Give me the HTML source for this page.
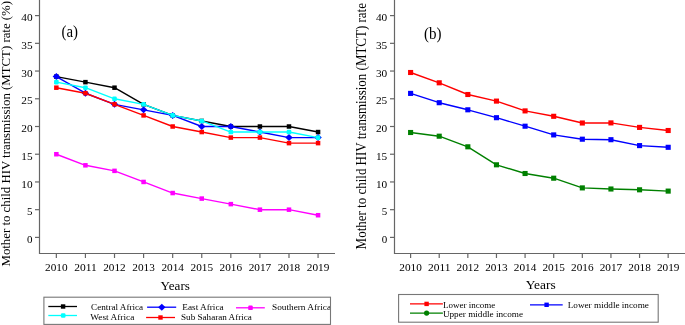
<!DOCTYPE html><html><head><meta charset="utf-8"><style>html,body{margin:0;padding:0;background:#fff;width:685px;height:325px;overflow:hidden}svg{display:block;will-change:transform}text{font-family:"Liberation Serif",serif;fill:#000}</style></head><body>
<svg width="685" height="325" viewBox="0 0 685 325">
<rect width="685" height="325" fill="#fff"/>
<path d="M39.5 0V253.5H335" fill="none" stroke="#666666" stroke-width="1.2"/>
<path d="M35 237.4H39.5" stroke="#666666" stroke-width="1.2"/>
<text x="32.6" y="243" font-size="10" text-anchor="end" textLength="5.5" lengthAdjust="spacingAndGlyphs">0</text>
<path d="M35 209.68H39.5" stroke="#666666" stroke-width="1.2"/>
<text x="32.6" y="215.28" font-size="10" text-anchor="end" textLength="5.5" lengthAdjust="spacingAndGlyphs">5</text>
<path d="M35 181.95H39.5" stroke="#666666" stroke-width="1.2"/>
<text x="32.6" y="187.55" font-size="10" text-anchor="end" textLength="11.3" lengthAdjust="spacingAndGlyphs">10</text>
<path d="M35 154.23H39.5" stroke="#666666" stroke-width="1.2"/>
<text x="32.6" y="159.83" font-size="10" text-anchor="end" textLength="11.3" lengthAdjust="spacingAndGlyphs">15</text>
<path d="M35 126.5H39.5" stroke="#666666" stroke-width="1.2"/>
<text x="32.6" y="132.1" font-size="10" text-anchor="end" textLength="11.3" lengthAdjust="spacingAndGlyphs">20</text>
<path d="M35 98.78H39.5" stroke="#666666" stroke-width="1.2"/>
<text x="32.6" y="104.38" font-size="10" text-anchor="end" textLength="11.3" lengthAdjust="spacingAndGlyphs">25</text>
<path d="M35 71.05H39.5" stroke="#666666" stroke-width="1.2"/>
<text x="32.6" y="76.65" font-size="10" text-anchor="end" textLength="11.3" lengthAdjust="spacingAndGlyphs">30</text>
<path d="M35 43.33H39.5" stroke="#666666" stroke-width="1.2"/>
<text x="32.6" y="48.93" font-size="10" text-anchor="end" textLength="11.3" lengthAdjust="spacingAndGlyphs">35</text>
<path d="M35 15.6H39.5" stroke="#666666" stroke-width="1.2"/>
<text x="32.6" y="21.2" font-size="10" text-anchor="end" textLength="11.3" lengthAdjust="spacingAndGlyphs">40</text>
<path d="M56.35 253.5V258" stroke="#666666" stroke-width="1.2"/>
<text x="56.35" y="270.5" font-size="10" text-anchor="middle" textLength="22.5" lengthAdjust="spacingAndGlyphs">2010</text>
<path d="M85.43 253.5V258" stroke="#666666" stroke-width="1.2"/>
<text x="85.43" y="270.5" font-size="10" text-anchor="middle" textLength="22.5" lengthAdjust="spacingAndGlyphs">2011</text>
<path d="M114.51 253.5V258" stroke="#666666" stroke-width="1.2"/>
<text x="114.51" y="270.5" font-size="10" text-anchor="middle" textLength="22.5" lengthAdjust="spacingAndGlyphs">2012</text>
<path d="M143.59 253.5V258" stroke="#666666" stroke-width="1.2"/>
<text x="143.59" y="270.5" font-size="10" text-anchor="middle" textLength="22.5" lengthAdjust="spacingAndGlyphs">2013</text>
<path d="M172.67 253.5V258" stroke="#666666" stroke-width="1.2"/>
<text x="172.67" y="270.5" font-size="10" text-anchor="middle" textLength="22.5" lengthAdjust="spacingAndGlyphs">2014</text>
<path d="M201.75 253.5V258" stroke="#666666" stroke-width="1.2"/>
<text x="201.75" y="270.5" font-size="10" text-anchor="middle" textLength="22.5" lengthAdjust="spacingAndGlyphs">2015</text>
<path d="M230.83 253.5V258" stroke="#666666" stroke-width="1.2"/>
<text x="230.83" y="270.5" font-size="10" text-anchor="middle" textLength="22.5" lengthAdjust="spacingAndGlyphs">2016</text>
<path d="M259.91 253.5V258" stroke="#666666" stroke-width="1.2"/>
<text x="259.91" y="270.5" font-size="10" text-anchor="middle" textLength="22.5" lengthAdjust="spacingAndGlyphs">2017</text>
<path d="M288.99 253.5V258" stroke="#666666" stroke-width="1.2"/>
<text x="288.99" y="270.5" font-size="10" text-anchor="middle" textLength="22.5" lengthAdjust="spacingAndGlyphs">2018</text>
<path d="M318.07 253.5V258" stroke="#666666" stroke-width="1.2"/>
<text x="318.07" y="270.5" font-size="10" text-anchor="middle" textLength="22.5" lengthAdjust="spacingAndGlyphs">2019</text>
<text x="160.6" y="290.1" font-size="12.6" textLength="29.3" lengthAdjust="spacingAndGlyphs">Years</text>
<text transform="translate(9.8 266.5) rotate(-90)" x="0" y="0" font-size="13.4" textLength="265.5" lengthAdjust="spacingAndGlyphs">Mother to child HIV transmission (MTCT) rate (%)</text>
<text x="61.5" y="36.9" font-size="16" textLength="16.5" lengthAdjust="spacingAndGlyphs">(a)</text>
<path d="M56.35 76.59 L85.43 82.14 L114.51 87.69 L143.59 104.32 L172.67 115.41 L201.75 120.96 L230.83 126.5 L259.91 126.5 L288.99 126.5 L318.07 132.05" fill="none" stroke="#000000" stroke-width="1.4" stroke-linejoin="round"/><rect x="54.1" y="74.34" width="4.5" height="4.5" fill="#000000"/><rect x="83.18" y="79.89" width="4.5" height="4.5" fill="#000000"/><rect x="112.26" y="85.44" width="4.5" height="4.5" fill="#000000"/><rect x="141.34" y="102.07" width="4.5" height="4.5" fill="#000000"/><rect x="170.42" y="113.16" width="4.5" height="4.5" fill="#000000"/><rect x="199.5" y="118.71" width="4.5" height="4.5" fill="#000000"/><rect x="228.58" y="124.25" width="4.5" height="4.5" fill="#000000"/><rect x="257.66" y="124.25" width="4.5" height="4.5" fill="#000000"/><rect x="286.74" y="124.25" width="4.5" height="4.5" fill="#000000"/><rect x="315.82" y="129.8" width="4.5" height="4.5" fill="#000000"/>
<path d="M56.35 76.59 L85.43 93.23 L114.51 104.32 L143.59 109.87 L172.67 115.41 L201.75 126.5 L230.83 126.5 L259.91 132.05 L288.99 137.59 L318.07 137.59" fill="none" stroke="#0000ff" stroke-width="1.4" stroke-linejoin="round"/><path d="M56.35 73.09L60.05 76.59L56.35 80.09L52.65 76.59Z" fill="#0000ff"/><path d="M85.43 89.73L89.13 93.23L85.43 96.73L81.73 93.23Z" fill="#0000ff"/><path d="M114.51 100.82L118.21 104.32L114.51 107.82L110.81 104.32Z" fill="#0000ff"/><path d="M143.59 106.37L147.29 109.87L143.59 113.37L139.89 109.87Z" fill="#0000ff"/><path d="M172.67 111.91L176.37 115.41L172.67 118.91L168.97 115.41Z" fill="#0000ff"/><path d="M201.75 123L205.45 126.5L201.75 130L198.05 126.5Z" fill="#0000ff"/><path d="M230.83 123L234.53 126.5L230.83 130L227.13 126.5Z" fill="#0000ff"/><path d="M259.91 128.55L263.61 132.05L259.91 135.55L256.21 132.05Z" fill="#0000ff"/><path d="M288.99 134.09L292.69 137.59L288.99 141.09L285.29 137.59Z" fill="#0000ff"/><path d="M318.07 134.09L321.77 137.59L318.07 141.09L314.37 137.59Z" fill="#0000ff"/>
<path d="M56.35 154.23 L85.43 165.31 L114.51 170.86 L143.59 181.95 L172.67 193.04 L201.75 198.59 L230.83 204.13 L259.91 209.68 L288.99 209.68 L318.07 215.22" fill="none" stroke="#ff00ff" stroke-width="1.4" stroke-linejoin="round"/><rect x="54.1" y="151.98" width="4.5" height="4.5" fill="#ff00ff"/><rect x="83.18" y="163.06" width="4.5" height="4.5" fill="#ff00ff"/><rect x="112.26" y="168.61" width="4.5" height="4.5" fill="#ff00ff"/><rect x="141.34" y="179.7" width="4.5" height="4.5" fill="#ff00ff"/><rect x="170.42" y="190.79" width="4.5" height="4.5" fill="#ff00ff"/><rect x="199.5" y="196.34" width="4.5" height="4.5" fill="#ff00ff"/><rect x="228.58" y="201.88" width="4.5" height="4.5" fill="#ff00ff"/><rect x="257.66" y="207.43" width="4.5" height="4.5" fill="#ff00ff"/><rect x="286.74" y="207.43" width="4.5" height="4.5" fill="#ff00ff"/><rect x="315.82" y="212.97" width="4.5" height="4.5" fill="#ff00ff"/>
<path d="M56.35 82.14 L85.43 87.69 L114.51 98.78 L143.59 104.32 L172.67 115.41 L201.75 120.96 L230.83 132.05 L259.91 132.05 L288.99 132.05 L318.07 137.59" fill="none" stroke="#00ffff" stroke-width="1.4" stroke-linejoin="round"/><rect x="54.05" y="79.84" width="4.6" height="4.6" rx="1.2" fill="#00ffff"/><rect x="83.13" y="85.39" width="4.6" height="4.6" rx="1.2" fill="#00ffff"/><rect x="112.21" y="96.48" width="4.6" height="4.6" rx="1.2" fill="#00ffff"/><rect x="141.29" y="102.02" width="4.6" height="4.6" rx="1.2" fill="#00ffff"/><rect x="170.37" y="113.11" width="4.6" height="4.6" rx="1.2" fill="#00ffff"/><rect x="199.45" y="118.66" width="4.6" height="4.6" rx="1.2" fill="#00ffff"/><rect x="228.53" y="129.75" width="4.6" height="4.6" rx="1.2" fill="#00ffff"/><rect x="257.61" y="129.75" width="4.6" height="4.6" rx="1.2" fill="#00ffff"/><rect x="286.69" y="129.75" width="4.6" height="4.6" rx="1.2" fill="#00ffff"/><rect x="315.77" y="135.29" width="4.6" height="4.6" rx="1.2" fill="#00ffff"/>
<path d="M56.35 87.69 L85.43 93.23 L114.51 104.32 L143.59 115.41 L172.67 126.5 L201.75 132.05 L230.83 137.59 L259.91 137.59 L288.99 143.13 L318.07 143.13" fill="none" stroke="#ff0000" stroke-width="1.4" stroke-linejoin="round"/><rect x="54.1" y="85.44" width="4.5" height="4.5" fill="#ff0000"/><rect x="83.18" y="90.98" width="4.5" height="4.5" fill="#ff0000"/><rect x="112.26" y="102.07" width="4.5" height="4.5" fill="#ff0000"/><rect x="141.34" y="113.16" width="4.5" height="4.5" fill="#ff0000"/><rect x="170.42" y="124.25" width="4.5" height="4.5" fill="#ff0000"/><rect x="199.5" y="129.8" width="4.5" height="4.5" fill="#ff0000"/><rect x="228.58" y="135.34" width="4.5" height="4.5" fill="#ff0000"/><rect x="257.66" y="135.34" width="4.5" height="4.5" fill="#ff0000"/><rect x="286.74" y="140.88" width="4.5" height="4.5" fill="#ff0000"/><rect x="315.82" y="140.88" width="4.5" height="4.5" fill="#ff0000"/>
<rect x="43.9" y="297.2" width="286.6" height="27.2" fill="none" stroke="#777777" stroke-width="1.1"/>
<path d="M48.3 306.5H77" stroke="#000000" stroke-width="1.3"/><rect x="60.9" y="304.3" width="4.4" height="4.4" fill="#000000"/>
<path d="M48.3 315.5H77" stroke="#00ffff" stroke-width="1.3"/><rect x="60.9" y="313.2" width="4.6" height="4.6" rx="1.2" fill="#00ffff"/>
<path d="M147.1 307.2H176.2" stroke="#0000ff" stroke-width="1.3"/><path d="M161.8 303.7L165.5 307.2L161.8 310.7L158.1 307.2Z" fill="#0000ff"/>
<path d="M146.1 317.5H175" stroke="#ff0000" stroke-width="1.3"/><rect x="158.3" y="315.3" width="4.4" height="4.4" fill="#ff0000"/>
<path d="M236 307.8H264.8" stroke="#ff00ff" stroke-width="1.3"/><rect x="248.2" y="305.5" width="4.6" height="4.6" rx="1.2" fill="#ff00ff"/>
<text x="91.1" y="309.8" font-size="9" textLength="52.1" lengthAdjust="spacingAndGlyphs">Central Africa</text>
<text x="90.3" y="319.6" font-size="9" textLength="44" lengthAdjust="spacingAndGlyphs">West Africa</text>
<text x="182.3" y="310" font-size="9" textLength="41.3" lengthAdjust="spacingAndGlyphs">East Africa</text>
<text x="181" y="320.3" font-size="9" textLength="70.9" lengthAdjust="spacingAndGlyphs">Sub Saharan Africa</text>
<svg x="0" y="0" width="330" height="325" overflow="hidden"><text x="272" y="310.1" font-size="9" textLength="59" lengthAdjust="spacingAndGlyphs">Southern Africa</text></svg>
<path d="M394.5 0V253.5H685" fill="none" stroke="#666666" stroke-width="1.2"/>
<path d="M390 237.4H394.5" stroke="#666666" stroke-width="1.2"/>
<text x="387.2" y="243" font-size="10" text-anchor="end" textLength="5.5" lengthAdjust="spacingAndGlyphs">0</text>
<path d="M390 209.68H394.5" stroke="#666666" stroke-width="1.2"/>
<text x="387.2" y="215.28" font-size="10" text-anchor="end" textLength="5.5" lengthAdjust="spacingAndGlyphs">5</text>
<path d="M390 181.95H394.5" stroke="#666666" stroke-width="1.2"/>
<text x="387.2" y="187.55" font-size="10" text-anchor="end" textLength="11.3" lengthAdjust="spacingAndGlyphs">10</text>
<path d="M390 154.23H394.5" stroke="#666666" stroke-width="1.2"/>
<text x="387.2" y="159.83" font-size="10" text-anchor="end" textLength="11.3" lengthAdjust="spacingAndGlyphs">15</text>
<path d="M390 126.5H394.5" stroke="#666666" stroke-width="1.2"/>
<text x="387.2" y="132.1" font-size="10" text-anchor="end" textLength="11.3" lengthAdjust="spacingAndGlyphs">20</text>
<path d="M390 98.78H394.5" stroke="#666666" stroke-width="1.2"/>
<text x="387.2" y="104.38" font-size="10" text-anchor="end" textLength="11.3" lengthAdjust="spacingAndGlyphs">25</text>
<path d="M390 71.05H394.5" stroke="#666666" stroke-width="1.2"/>
<text x="387.2" y="76.65" font-size="10" text-anchor="end" textLength="11.3" lengthAdjust="spacingAndGlyphs">30</text>
<path d="M390 43.33H394.5" stroke="#666666" stroke-width="1.2"/>
<text x="387.2" y="48.93" font-size="10" text-anchor="end" textLength="11.3" lengthAdjust="spacingAndGlyphs">35</text>
<path d="M390 15.6H394.5" stroke="#666666" stroke-width="1.2"/>
<text x="387.2" y="21.2" font-size="10" text-anchor="end" textLength="11.3" lengthAdjust="spacingAndGlyphs">40</text>
<path d="M410.6 253.5V258" stroke="#666666" stroke-width="1.2"/>
<text x="410.6" y="270.5" font-size="10" text-anchor="middle" textLength="22.5" lengthAdjust="spacingAndGlyphs">2010</text>
<path d="M439.22 253.5V258" stroke="#666666" stroke-width="1.2"/>
<text x="439.22" y="270.5" font-size="10" text-anchor="middle" textLength="22.5" lengthAdjust="spacingAndGlyphs">2011</text>
<path d="M467.84 253.5V258" stroke="#666666" stroke-width="1.2"/>
<text x="467.84" y="270.5" font-size="10" text-anchor="middle" textLength="22.5" lengthAdjust="spacingAndGlyphs">2012</text>
<path d="M496.46 253.5V258" stroke="#666666" stroke-width="1.2"/>
<text x="496.46" y="270.5" font-size="10" text-anchor="middle" textLength="22.5" lengthAdjust="spacingAndGlyphs">2013</text>
<path d="M525.08 253.5V258" stroke="#666666" stroke-width="1.2"/>
<text x="525.08" y="270.5" font-size="10" text-anchor="middle" textLength="22.5" lengthAdjust="spacingAndGlyphs">2014</text>
<path d="M553.7 253.5V258" stroke="#666666" stroke-width="1.2"/>
<text x="553.7" y="270.5" font-size="10" text-anchor="middle" textLength="22.5" lengthAdjust="spacingAndGlyphs">2015</text>
<path d="M582.32 253.5V258" stroke="#666666" stroke-width="1.2"/>
<text x="582.32" y="270.5" font-size="10" text-anchor="middle" textLength="22.5" lengthAdjust="spacingAndGlyphs">2016</text>
<path d="M610.94 253.5V258" stroke="#666666" stroke-width="1.2"/>
<text x="610.94" y="270.5" font-size="10" text-anchor="middle" textLength="22.5" lengthAdjust="spacingAndGlyphs">2017</text>
<path d="M639.56 253.5V258" stroke="#666666" stroke-width="1.2"/>
<text x="639.56" y="270.5" font-size="10" text-anchor="middle" textLength="22.5" lengthAdjust="spacingAndGlyphs">2018</text>
<path d="M668.18 253.5V258" stroke="#666666" stroke-width="1.2"/>
<text x="668.18" y="270.5" font-size="10" text-anchor="middle" textLength="22.5" lengthAdjust="spacingAndGlyphs">2019</text>
<text x="525.7" y="289.4" font-size="12.6" textLength="30" lengthAdjust="spacingAndGlyphs">Years</text>
<text transform="translate(365.8 249.4) rotate(-90)" x="0" y="0" font-size="13.7" textLength="246.4" lengthAdjust="spacingAndGlyphs">Mother to child HIV transmission (MTCT) rate</text>
<text x="424" y="38.7" font-size="16" textLength="17.5" lengthAdjust="spacingAndGlyphs">(b)</text>
<path d="M410.6 72.5 L439.22 82.8 L467.84 94.5 L496.46 101.1 L525.08 110.9 L553.7 116.3 L582.32 123 L610.94 122.9 L639.56 127.4 L668.18 130.5" fill="none" stroke="#ff0000" stroke-width="1.4" stroke-linejoin="round"/><rect x="408.05" y="69.95" width="5.1" height="5.1" fill="#ff0000"/><rect x="436.67" y="80.25" width="5.1" height="5.1" fill="#ff0000"/><rect x="465.29" y="91.95" width="5.1" height="5.1" fill="#ff0000"/><rect x="493.91" y="98.55" width="5.1" height="5.1" fill="#ff0000"/><rect x="522.53" y="108.35" width="5.1" height="5.1" fill="#ff0000"/><rect x="551.15" y="113.75" width="5.1" height="5.1" fill="#ff0000"/><rect x="579.77" y="120.45" width="5.1" height="5.1" fill="#ff0000"/><rect x="608.39" y="120.35" width="5.1" height="5.1" fill="#ff0000"/><rect x="637.01" y="124.85" width="5.1" height="5.1" fill="#ff0000"/><rect x="665.63" y="127.95" width="5.1" height="5.1" fill="#ff0000"/>
<path d="M410.6 93.4 L439.22 102.7 L467.84 109.8 L496.46 117.7 L525.08 126.2 L553.7 134.9 L582.32 139.2 L610.94 139.7 L639.56 145.6 L668.18 147.3" fill="none" stroke="#0000ff" stroke-width="1.4" stroke-linejoin="round"/><rect x="408.05" y="90.85" width="5.1" height="5.1" fill="#0000ff"/><rect x="436.67" y="100.15" width="5.1" height="5.1" fill="#0000ff"/><rect x="465.29" y="107.25" width="5.1" height="5.1" fill="#0000ff"/><rect x="493.91" y="115.15" width="5.1" height="5.1" fill="#0000ff"/><rect x="522.53" y="123.65" width="5.1" height="5.1" fill="#0000ff"/><rect x="551.15" y="132.35" width="5.1" height="5.1" fill="#0000ff"/><rect x="579.77" y="136.65" width="5.1" height="5.1" fill="#0000ff"/><rect x="608.39" y="137.15" width="5.1" height="5.1" fill="#0000ff"/><rect x="637.01" y="143.05" width="5.1" height="5.1" fill="#0000ff"/><rect x="665.63" y="144.75" width="5.1" height="5.1" fill="#0000ff"/>
<path d="M410.6 132.5 L439.22 136.2 L467.84 146.8 L496.46 164.8 L525.08 173.5 L553.7 178.2 L582.32 187.9 L610.94 189 L639.56 189.8 L668.18 191.1" fill="none" stroke="#008000" stroke-width="1.4" stroke-linejoin="round"/><rect x="408.05" y="129.95" width="5.1" height="5.1" fill="#008000"/><rect x="436.67" y="133.65" width="5.1" height="5.1" fill="#008000"/><rect x="465.29" y="144.25" width="5.1" height="5.1" fill="#008000"/><rect x="493.91" y="162.25" width="5.1" height="5.1" fill="#008000"/><rect x="522.53" y="170.95" width="5.1" height="5.1" fill="#008000"/><rect x="551.15" y="175.65" width="5.1" height="5.1" fill="#008000"/><rect x="579.77" y="185.35" width="5.1" height="5.1" fill="#008000"/><rect x="608.39" y="186.45" width="5.1" height="5.1" fill="#008000"/><rect x="637.01" y="187.25" width="5.1" height="5.1" fill="#008000"/><rect x="665.63" y="188.55" width="5.1" height="5.1" fill="#008000"/>
<rect x="398.6" y="294.5" width="259.6" height="27.7" fill="none" stroke="#777777" stroke-width="1.1"/>
<path d="M410 303.9H442.9" stroke="#ff0000" stroke-width="1.3"/><rect x="424.4" y="301.7" width="4.4" height="4.4" fill="#ff0000"/>
<path d="M410 313.1H442.9" stroke="#008000" stroke-width="1.3"/><circle cx="426.6" cy="313.1" r="2.6" fill="#008000"/>
<path d="M530 304.8H562.7" stroke="#0000ff" stroke-width="1.3"/><rect x="544.4" y="302.6" width="4.4" height="4.4" fill="#0000ff"/>
<text x="442.9" y="307.7" font-size="9" textLength="52.3" lengthAdjust="spacingAndGlyphs">Lower income</text>
<text x="442.9" y="316.9" font-size="9" textLength="80.1" lengthAdjust="spacingAndGlyphs">Upper middle income</text>
<text x="567.7" y="307.9" font-size="9" textLength="81.2" lengthAdjust="spacingAndGlyphs">Lower middle income</text>
</svg></body></html>
